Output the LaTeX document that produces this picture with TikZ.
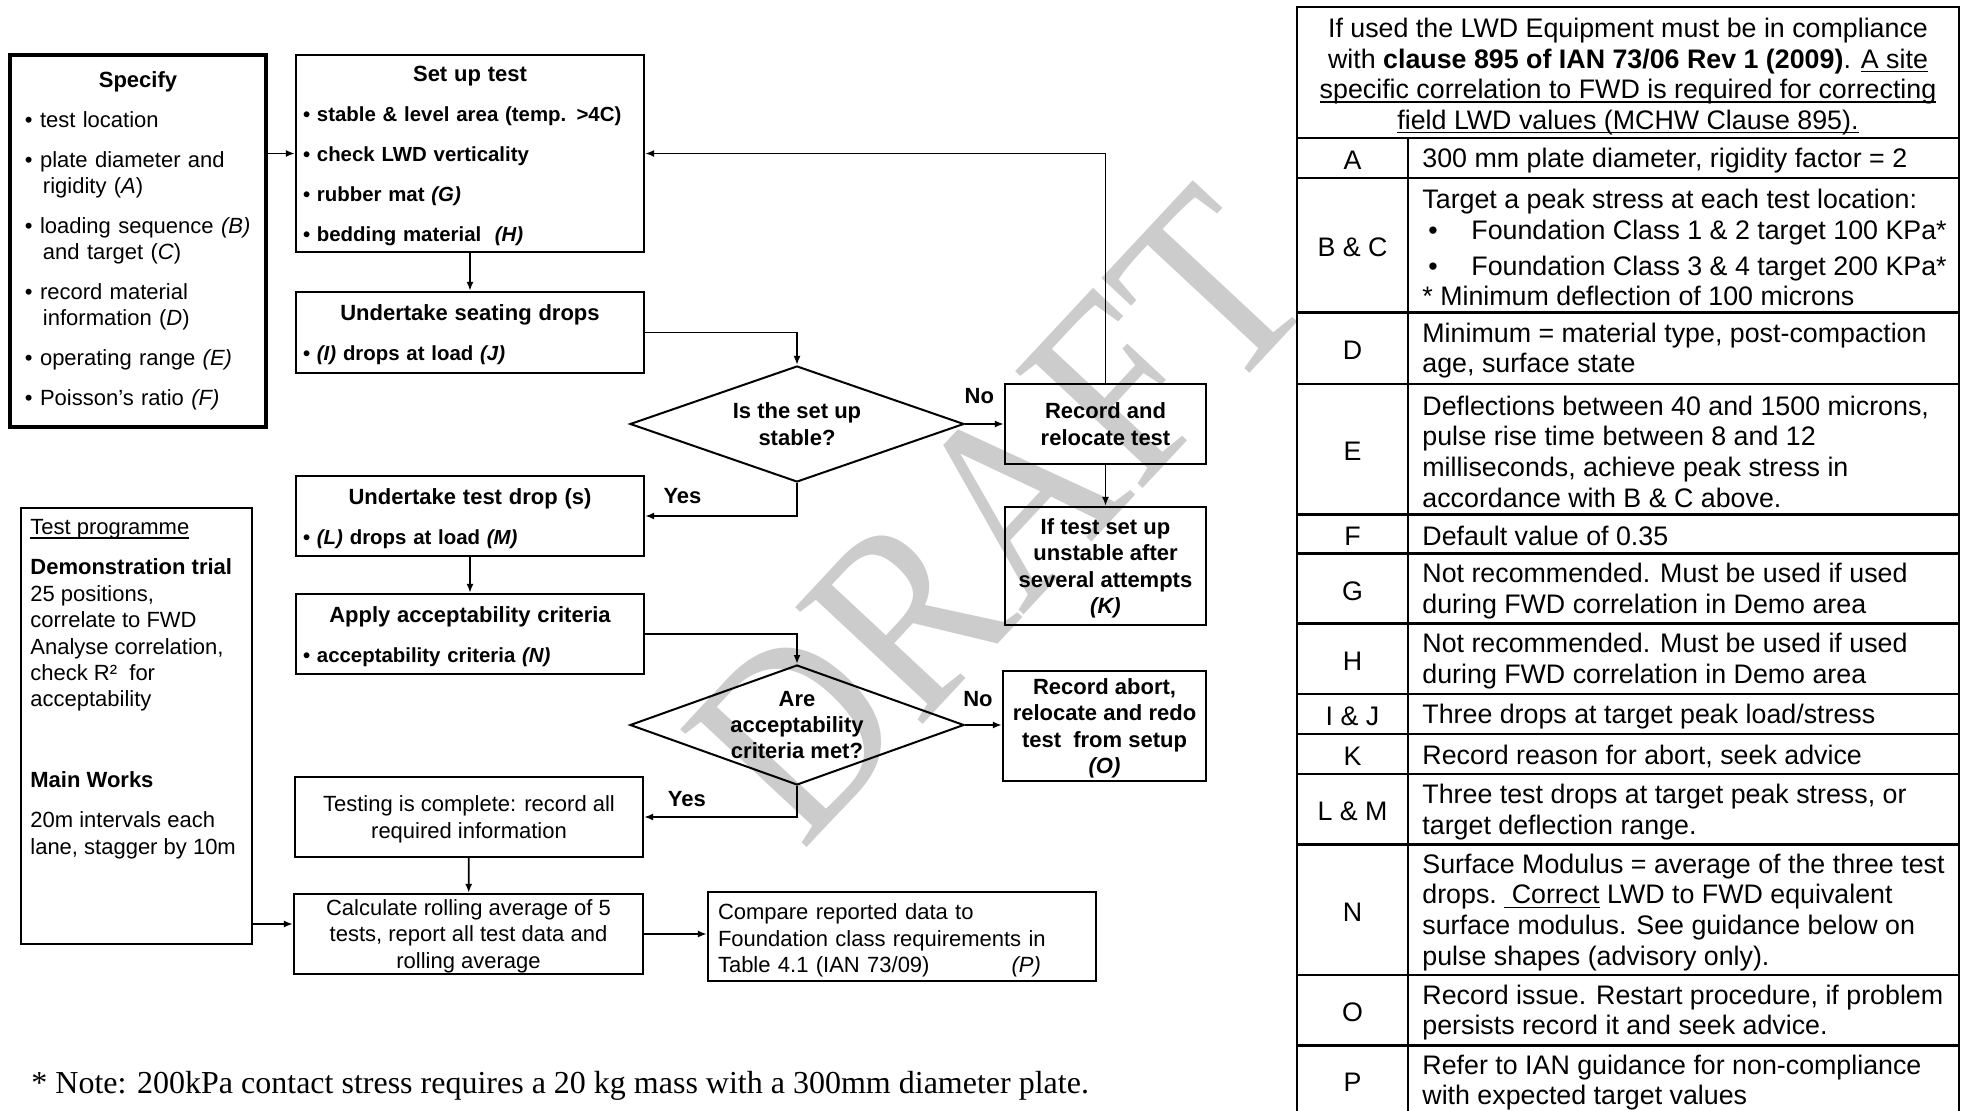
\documentclass[tikz,border=0pt]{standalone}
\usepackage{fontspec}
\setmainfont{Liberation Sans}
\newfontfamily\notefont{Liberation Serif}
\usetikzlibrary{positioning,shapes.geometric,arrows.meta}
\newcommand\lowline[1]{\leavevmode\setbox0=\hbox{#1}\rlap{\rule[-2pt]{\wd0}{0.7pt}}\box0\relax}
\newcommand\boxhead[1]{\makebox[\linewidth]{\rule{0pt}{10.4pt}\fontsize{11}{20}\selectfont #1}}

\begin{document}
\begin{tikzpicture}[x=0.5pt, y=-0.5pt,
    flow/.style={line width=0.9pt, -{Latex[length=4.5pt,width=3.5pt]}},
    listbox/.style={draw, line width=1.1pt, inner xsep=3.5pt, inner ysep=2pt, text width=167pt,
      align=left, font=\bfseries\fontsize{10.2}{20}\selectfont},
    stepbox/.style={draw, line width=1.1pt, inner ysep=1pt, minimum width=100.5pt, text depth=0pt,
      align=center, font=\bfseries\fontsize{11}{13.2}\selectfont},
    plainbox/.style={draw, line width=1.1pt, inner ysep=1pt, align=center, text depth=0pt,
      font=\fontsize{11}{13.2}\selectfont},
    decide/.style={diamond, draw, line width=1pt, aspect=2.88, inner sep=-2pt,
      minimum width=167pt, align=center, font=\bfseries\fontsize{11}{13.2}\selectfont},
    lbl/.style={inner sep=1pt, font=\bfseries\fontsize{11}{13}\selectfont},
    tablerule/.style={line width=1.4pt},
    textcell/.style={anchor=west, inner sep=0pt, yshift=-1.2pt, align=left, font=\fontsize{13.4}{15.3}\selectfont},
    keycell/.style={inner sep=0pt, yshift=-1.2pt, font=\fontsize{13.4}{15.3}\selectfont}]
  \useasboundingbox (0,0) rectangle (1968,1111);

  % watermark
  \node[rotate=47, xscale=0.88, text=gray!40, inner sep=0pt, font=\notefont\fontsize{132}{132}\selectfont]
    (draft) at (999,515) {DRAFT};

  % inputs on the left
  \node[draw, line width=2pt, inner xsep=7.5pt, text width=113pt, minimum height=186pt,
    align=left, font=\fontsize{11}{13}\selectfont] (spec) at (138,241)
    {\makebox[\linewidth]{\bfseries Specify}\\[7pt]
     \textbullet{} test location\\[7pt]
     \textbullet{} plate diameter and\\\hspace*{9pt}rigidity (\textit{A})\\[7pt]
     \textbullet{} loading sequence \textit{(B)}\\\hspace*{9pt}and target (\textit{C})\\[7pt]
     \textbullet{} record material\\\hspace*{9pt}information (\textit{D})\\[7pt]
     \textbullet{} operating range \textit{(E)}\\[7pt]
     \textbullet{} Poisson's ratio \textit{(F)}};
  \node[draw, line width=1pt, minimum width=115.5pt, minimum height=218pt] (prog) at (136.5,726) {};
  \node[inner sep=0pt, align=left, font=\fontsize{11}{13.2}\selectfont,
    below right=6pt and 5pt of prog.north west] (progtext)
    {\lowline{Test programme}\\[7pt]
     \textbf{Demonstration trial}\\
     25 positions,\\
     correlate to FWD\\
     Analyse correlation,\\
     check R²\ \ for\\
     acceptability\\[27pt]
     \textbf{Main Works}\\[7pt]
     20m intervals each\\
     lane, stagger by 10m};

  % main flow
  \node[listbox, minimum height=98.5pt] (setup) at (470,153.5)
    {\boxhead{Set up test}\\
     \textbullet{} stable \& level area (temp. >4C)\\
     \textbullet{} check LWD verticality\\
     \textbullet{} rubber mat \textit{(G)}\\
     \textbullet{} bedding material~ \textit{(H)}};
  \node[listbox, minimum height=40.5pt] (seat) at (470,332.5)
    {\boxhead{Undertake seating drops}\\
     \textbullet{} \textit{(I)} drops at load \textit{(J)}};
  \node[decide, minimum height=58pt] (stab) at (797,424) {Is the set up\\stable?};
  \node[stepbox, minimum height=40pt] (reloc) at (1105.5,424) {Record and\\relocate test};
  \node[stepbox, minimum height=59pt] (unst) at (1105.5,566)
    {If test set up\\unstable after\\several attempts\\\textit{(K)}};
  \node[listbox, minimum height=40pt] (drop) at (470,516)
    {\boxhead{Undertake test drop (s)}\\
     \textbullet{} \textit{(L)} drops at load \textit{(M)}};
  \node[listbox, minimum height=40pt] (acc) at (470,634)
    {\boxhead{Apply acceptability criteria}\\
     \textbullet{} acceptability criteria \textit{(N)}};
  \node[decide, minimum height=60pt] (crit) at (797,725) {Are\\acceptability\\criteria met?};
  \node[stepbox, minimum width=101.5pt, minimum height=55pt] (abort) at (1104.5,726)
    {Record abort,\\relocate and redo\\test~ from setup\\\textit{(O)}};
  \node[plainbox, minimum width=174pt, minimum height=40pt] (done) at (469,817)
    {Testing is complete: record all\\required information};
  \node[plainbox, minimum width=174.5pt, minimum height=40pt] (roll) at (468.5,934)
    {Calculate rolling average of 5\\tests, report all test data and\\rolling average};
  \node[draw, line width=1.1pt, align=left, text width=184pt, inner xsep=5pt, inner ysep=1pt,
    minimum height=44.5pt, font=\fontsize{11}{13.2}\selectfont] (cmp) at (902,936.5)
    {\rule{0pt}{12pt}Compare reported data to\\Foundation class requirements in\\Table 4.1 (IAN 73/09)\hspace{41pt}\textit{(P)}};

  \draw[flow] (spec.east |- setup.west) -- (setup.west);
  \draw[flow] (setup) -- (seat);
  \draw[flow] (seat.east) -| (stab.north);
  \draw[flow] (stab.east) -- (reloc.west) node[lbl, pos=.37, above=8.5pt] (no1) {No};
  \draw[flow] (reloc.north) |- (setup.east);
  \draw[flow] (reloc) -- (unst);
  \draw[flow] (stab.south) |- (drop.east) node[lbl, pos=.877, above=4.5pt] (yes1) {Yes};
  \draw[flow] (drop) -- (acc);
  \draw[flow] (acc.east) -| (crit.north);
  \draw[flow] (crit.east) -- (crit.east -| abort.west) node[lbl, pos=.35, above=7.5pt] (no2) {No};
  \draw[flow] (crit.south) |- (done.east) node[lbl, pos=.86, above=3.5pt] (yes2) {Yes};
  \draw[flow] (done) -- (roll);
  \draw[flow] (roll.east) -- (roll.east -| cmp.west);
  \draw[flow] ([yshift=5pt]prog.east |- roll.west) -- ([yshift=5pt]roll.west);

  \node[anchor=west, inner sep=0pt, font=\notefont\fontsize{16}{18}\selectfont] (note) at (31,1086)
    {* Note: 200kPa contact stress requires a 20 kg mass with a 300mm diameter plate.};

  % key table
  \draw[tablerule] (1297,1111) -- (1297,7) -- (1959,7) -- (1959,1111);
  \draw[tablerule] (1408,138) -- (1408,1111);
  \foreach \y in {138,178,312.5,384,514.6,553.5,623.8,694,734,774,844.7,975,1045.5}
    \draw[tablerule] (1297,\y) -- (1959,\y);
  \node[keycell, align=center] (head) at (1628,74)
    {If used the LWD Equipment must be in compliance\\
     with \textbf{clause 895 of IAN 73/06 Rev 1 (2009)}. \lowline{A site}\\
     \lowline{specific correlation to FWD is required for correcting}\\
     \lowline{field LWD values (MCHW Clause 895).}};
  \foreach \k/\y [count=\i] in {A/158,B \& C/245.3,D/348.3,E/449.3,F/534,G/588.7,H/658.9,
      I \& J/714,K/754,L \& M/809.4,N/909.9,O/1010.3,P/1080}
    \node[keycell] (key\i) at (1352.5,\y) {\k};
  \node[textcell] (rowA) at (1422,158) {300 mm plate diameter, rigidity factor = 2};
  \node[textcell] (rowBC) at (1422,245.3)
    {Target a peak stress at each test location:\\
     \hspace*{3pt}\makebox[21.5pt][l]{\textbullet}Foundation Class 1 \& 2 target 100 KPa*\\[2.5pt]
     \hspace*{3pt}\makebox[21.5pt][l]{\textbullet}Foundation Class 3 \& 4 target 200 KPa*\\
     * Minimum deflection of 100 microns};
  \node[textcell] (rowD) at (1422,348.3) {Minimum = material type, post-compaction\\age, surface state};
  \node[textcell] (rowE) at (1422,449.3)
    {Deflections between 40 and 1500 microns,\\pulse rise time between 8 and 12\\
     milliseconds, achieve peak stress in\\accordance with B \& C above.};
  \node[textcell] (rowF) at (1422,534) {Default value of 0.35};
  \node[textcell] (rowG) at (1422,588.7) {Not recommended. Must be used if used\\during FWD correlation in Demo area};
  \node[textcell] (rowH) at (1422,658.9) {Not recommended. Must be used if used\\during FWD correlation in Demo area};
  \node[textcell] (rowIJ) at (1422,714) {Three drops at target peak load/stress};
  \node[textcell] (rowK) at (1422,754) {Record reason for abort, seek advice};
  \node[textcell] (rowLM) at (1422,809.4) {Three test drops at target peak stress, or\\target deflection range.};
  \node[textcell] (rowN) at (1422,909.9)
    {Surface Modulus = average of the three test\\drops.~\lowline{~Correct} LWD to FWD equivalent\\
     surface modulus. See guidance below on\\pulse shapes (advisory only).};
  \node[textcell] (rowO) at (1422,1010.3) {Record issue. Restart procedure, if problem\\persists record it and seek advice.};
  \node[textcell] (rowP) at (1422,1080) {Refer to IAN guidance for non-compliance\\with expected target values};
\end{tikzpicture}
\end{document}
